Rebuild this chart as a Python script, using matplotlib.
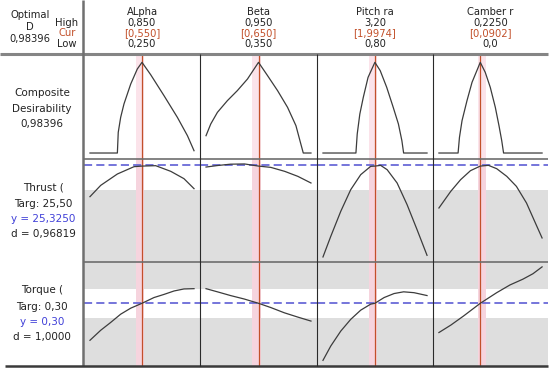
import matplotlib
matplotlib.use('Agg')
import matplotlib.pyplot as plt
from matplotlib.lines import Line2D

plt.rcParams['font.family'] = ['DejaVu Sans']

# factors (columns)
factors = ['ALpha', 'Beta', 'Pitch ra', 'Camber r']
f_low = [0.250, 0.350, 0.80, 0.0]
f_high = [0.850, 0.950, 3.20, 0.2250]
f_cur = [0.550, 0.650, 1.9974, 0.0902]
high_txt = ['0,850', '0,950', '3,20', '0,2250']
cur_txt = ['[0,550]', '[0,650]', '[1,9974]', '[0,0902]']
low_txt = ['0,250', '0,350', '0,80', '0,0']

# composite desirability curves
comp_alpha_x = [0.25, 0.408, 0.413, 0.427, 0.446, 0.485, 0.523, 0.55, 0.60, 0.677, 0.754, 0.812, 0.85]
comp_alpha_d = [0, 0, 0.224, 0.387, 0.532, 0.749, 0.912, 0.984, 0.850, 0.622, 0.387, 0.188, 0.025]
comp_beta_x = [0.35, 0.377, 0.415, 0.472, 0.529, 0.587, 0.65, 0.702, 0.759, 0.816, 0.864, 0.892, 0.906, 0.95]
comp_beta_d = [0.188, 0.315, 0.441, 0.568, 0.677, 0.803, 0.984, 0.839, 0.677, 0.496, 0.297, 0.098, 0, 0]
comp_pitch_x = [0.80, 1.56, 1.59, 1.65, 1.73, 1.84, 1.9974, 2.12, 2.27, 2.42, 2.54, 2.62, 2.66, 3.20]
comp_pitch_d = [0, 0, 0.206, 0.423, 0.604, 0.821, 0.984, 0.894, 0.713, 0.496, 0.315, 0.134, 0, 0]
comp_camber_x = [0, 0.0418, 0.0448, 0.0504, 0.0612, 0.0722, 0.0902, 0.101, 0.112, 0.123, 0.131, 0.137, 0.141, 0.225]
comp_camber_d = [0, 0, 0.170, 0.351, 0.568, 0.767, 0.984, 0.876, 0.713, 0.496, 0.297, 0.134, 0, 0]

# Thrust response
thrust_alpha_x = [0.25, 0.312, 0.408, 0.504, 0.55, 0.629, 0.716, 0.792, 0.85]
thrust_alpha_y = [18.60, 21.09, 23.59, 25.20, 25.33, 25.42, 24.17, 22.56, 20.36]
thrust_beta_x = [0.35, 0.415, 0.49, 0.57, 0.65, 0.72, 0.80, 0.875, 0.95]
thrust_beta_y = [25.12, 25.45, 25.75, 25.80, 25.33, 25.05, 24.17, 23.07, 21.61]
thrust_pitch_x = [0.80, 0.98, 1.21, 1.44, 1.67, 1.90, 1.9974, 2.13, 2.28, 2.51, 2.74, 2.97, 3.20]
thrust_pitch_y = [5.33, 9.87, 15.37, 20.14, 23.44, 25.27, 25.33, 25.49, 24.54, 21.61, 16.84, 11.34, 5.69]
thrust_camber_x = [0, 0.0258, 0.0473, 0.0688, 0.0902, 0.108, 0.126, 0.148, 0.169, 0.191, 0.212, 0.225]
thrust_camber_y = [16.11, 19.77, 22.34, 24.32, 25.33, 25.49, 24.76, 23.07, 20.87, 17.21, 12.44, 9.51]

# Torque response
torque_alpha_x = [0.25, 0.312, 0.369, 0.427, 0.485, 0.55, 0.619, 0.677, 0.735, 0.792, 0.85]
torque_alpha_y = [0.171, 0.206, 0.233, 0.262, 0.283, 0.300, 0.320, 0.331, 0.343, 0.350, 0.351]
torque_beta_x = [0.35, 0.415, 0.49, 0.568, 0.65, 0.721, 0.797, 0.874, 0.95]
torque_beta_y = [0.351, 0.340, 0.327, 0.315, 0.300, 0.285, 0.267, 0.252, 0.238]
torque_pitch_x = [0.80, 0.98, 1.21, 1.44, 1.67, 1.90, 1.9974, 2.21, 2.44, 2.66, 2.90, 3.20]
torque_pitch_y = [0.101, 0.151, 0.203, 0.244, 0.276, 0.297, 0.300, 0.320, 0.334, 0.340, 0.337, 0.327]
torque_camber_x = [0, 0.026, 0.054, 0.0902, 0.126, 0.155, 0.183, 0.205, 0.225]
torque_camber_y = [0.198, 0.224, 0.256, 0.300, 0.337, 0.364, 0.384, 0.403, 0.427]

comp_curves = [(comp_alpha_x, comp_alpha_d), (comp_beta_x, comp_beta_d),
               (comp_pitch_x, comp_pitch_d), (comp_camber_x, comp_camber_d)]
thrust_curves = [(thrust_alpha_x, thrust_alpha_y), (thrust_beta_x, thrust_beta_y),
                 (thrust_pitch_x, thrust_pitch_y), (thrust_camber_x, thrust_camber_y)]
torque_curves = [(torque_alpha_x, torque_alpha_y), (torque_beta_x, torque_beta_y),
                 (torque_pitch_x, torque_pitch_y), (torque_camber_x, torque_camber_y)]

thrust_target, thrust_low = 25.50, 20.0
torque_target, torque_low, torque_high = 0.30, 0.25, 0.35

W, H = 550, 371
fig = plt.figure(figsize=(W / 100, H / 100), dpi=100)


def fx(x):
    return x / W


def fy(y):
    return 1 - y / H


col_px = [(84, 200), (200, 317), (317, 433), (433, 548)]
row_px = [(54, 159), (159, 262), (262, 366)]
row_ylim = [(-0.065, 1.0745), (4.22, 26.89), (0.0813, 0.444)]
row_curves = [comp_curves, thrust_curves, torque_curves]
band_px = [(-6, 2), (-6, 2), (-6, 2), (-2, 6)]

red = '#c2502a'
pink = '#fbe3ea'
blue = '#6a6ad8'
shade = '#dedede'
curve_c = '#3c3c3c'

for r, (yt, yb) in enumerate(row_px):
    for c, (xl, xr) in enumerate(col_px):
        ax = fig.add_axes([fx(xl), fy(yb), fx(xr - xl), (yb - yt) / H])
        rng = f_high[c] - f_low[c]
        m = 6 / 104.5 * rng
        ax.set_xlim(f_low[c] - m, f_high[c] + m)
        ax.set_ylim(*row_ylim[r])
        ax.set_xticks([])
        ax.set_yticks([])
        for s in ax.spines.values():
            s.set_visible(False)
        ax.patch.set_alpha(0)
        if r == 1:
            ax.axhspan(row_ylim[1][0], thrust_low, color=shade, lw=0, zorder=0)
            ax.axhline(thrust_target, color=blue, lw=1.3, dashes=(4.5, 2.3), zorder=3)
        if r == 2:
            ax.axhspan(row_ylim[2][0], torque_low, color=shade, lw=0, zorder=0)
            ax.axhspan(torque_high, row_ylim[2][1], color=shade, lw=0, zorder=0)
            ax.axhline(torque_target, color=blue, lw=1.3, dashes=(4.5, 2.3), zorder=3)
        b0, b1 = band_px[c]
        band_c = pink if r == 0 else '#f6d4de'
        ax.axvspan(f_cur[c] + b0 / 104.5 * rng, f_cur[c] + b1 / 104.5 * rng,
                   color=band_c, lw=0, zorder=1)
        ax.axvline(f_cur[c], color=red, lw=0.9, zorder=2)
        xs, ys = row_curves[r][c]
        ax.plot(xs, ys, color=curve_c, lw=0.9, zorder=4)

# frame lines
def fline(x0, y0, x1, y1, color, lw):
    fig.add_artist(Line2D([fx(x0), fx(x1)], [fy(y0), fy(y1)], color=color, lw=lw,
                          solid_capstyle='butt', zorder=10))


fline(0, 54, 548, 54, '#858585', 2.2)
fline(83, 0, 83, 366, '#707070', 1.8)
fline(83, 159, 548, 159, '#6e6e6e', 1.2)
fline(83, 262, 548, 262, '#6e6e6e', 1.2)
fline(5, 366, 548, 366, '#3a3a3a', 1.8)
for xd in [200, 317, 433]:
    fline(xd, 54, xd, 366, '#2a2a2a', 0.8)

# header text
fs = 7.2
tc = '#222222'
fig.text(fx(30), fy(15), 'Optimal', ha='center', va='center', fontsize=fs, color=tc)
fig.text(fx(30), fy(27), 'D', ha='center', va='center', fontsize=fs, color=tc)
fig.text(fx(30), fy(39), '0,98396', ha='center', va='center', fontsize=fs, color=tc)
fig.text(fx(67), fy(23), 'High', ha='center', va='center', fontsize=fs, color=tc)
fig.text(fx(67), fy(33), 'Cur', ha='center', va='center', fontsize=fs, color=red)
fig.text(fx(67), fy(44), 'Low', ha='center', va='center', fontsize=fs, color=tc)
for c, (xl, xr) in enumerate(col_px):
    xc = (xl + xr) / 2
    fig.text(fx(xc), fy(12), factors[c], ha='center', va='center', fontsize=fs, color=tc)
    fig.text(fx(xc), fy(23), high_txt[c], ha='center', va='center', fontsize=fs, color=tc)
    fig.text(fx(xc), fy(33), cur_txt[c], ha='center', va='center', fontsize=fs, color=red)
    fig.text(fx(xc), fy(44), low_txt[c], ha='center', va='center', fontsize=fs, color=tc)

# row labels
ls = 7.5
labels = [
    (42, [('Composite', 93, tc), ('Desirability', 109, tc), ('0,98396', 124, tc)]),
    (43, [('Thrust (', 188, tc), ('Targ: 25,50', 204, tc), ('y = 25,3250', 219, '#4040d8'),
          ('d = 0,96819', 234, tc)]),
    (42, [('Torque (', 290, tc), ('Targ: 0,30', 307, tc), ('y = 0,30', 322, '#4040d8'),
          ('d = 1,0000', 337, tc)]),
]
for xc, lines in labels:
    for txt, yc, col in lines:
        fig.text(fx(xc), fy(yc), txt, ha='center', va='center', fontsize=ls, color=col)

fig.savefig('out.png', dpi=100)
